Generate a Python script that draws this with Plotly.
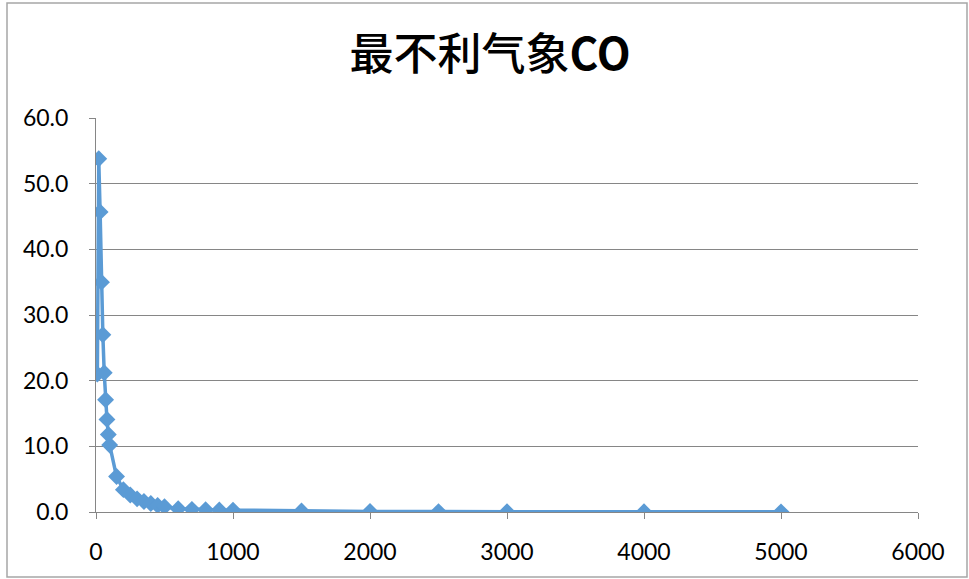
import plotly.graph_objects as go

# Distance from source (m) and CO concentration under the worst meteorology
distance = [10, 20, 30, 40, 50, 60, 70, 80, 90, 100, 150, 200, 250, 300, 350,
            400, 450, 500, 600, 700, 800, 900, 1000, 1500, 2000, 2500, 3000,
            4000, 5000]
co_conc = [21.0, 53.8, 45.7, 35.0, 27.0, 21.2, 17.1, 14.1, 11.8, 10.2, 5.4,
           3.4, 2.6, 2.0, 1.6, 1.3, 1.0, 0.8, 0.5, 0.4, 0.35, 0.3, 0.28, 0.15,
           0.09, 0.06, 0.05, 0.03, 0.02]

title_text = "最不利气象<b>CO</b>"
x_ticks = [0, 1000, 2000, 3000, 4000, 5000, 6000]
y_ticks = [0, 10, 20, 30, 40, 50, 60]

W, H = 969, 579
L, R, T, B = 96, 51, 118, 67
pw, ph = W - L - R, H - T - B

fig = go.Figure()
fig.add_trace(go.Scatter(
    x=distance, y=co_conc, mode="lines+markers",
    line=dict(color="#5B9BD5", width=3.5),
    marker=dict(symbol="diamond", size=13, color="#5B9BD5"),
    showlegend=False,
))

label_font = dict(family="Lato, 'Noto Sans', sans-serif", size=23, color="#000000")

fig.update_layout(
    width=W, height=H,
    margin=dict(l=L, r=R, t=T, b=B),
    paper_bgcolor="white", plot_bgcolor="white",
    title=dict(
        text=title_text,
        x=(L + 394) / W, xanchor="center",
        y=1 - 55 / H, yanchor="middle", yref="container",
        font=dict(family="'Noto Sans CJK SC', sans-serif", size=44,
                  color="#000000", weight=500),
    ),
    xaxis=dict(
        range=[0, 6000], tickvals=x_ticks, ticktext=[str(v) for v in x_ticks],
        showgrid=False, zeroline=False,
        showline=True, linecolor="#868686", linewidth=1,
        ticks="outside", ticklen=6, tickcolor="#868686",
        tickfont=label_font, ticklabelstandoff=13,
    ),
    yaxis=dict(
        range=[0, 60], tickvals=y_ticks, ticktext=[f"{v:.1f}" for v in y_ticks],
        showgrid=True, gridcolor="#868686", gridwidth=1,
        zeroline=False,
        showline=True, linecolor="#868686", linewidth=1,
        ticks="outside", ticklen=6, tickcolor="#868686",
        tickfont=label_font, ticklabelstandoff=16,
    ),
)

# Chart-area border
fig.add_shape(
    type="rect", xref="paper", yref="paper",
    x0=(7 - L) / pw, x1=(967 - L) / pw,
    y0=(H - B - 577) / ph, y1=(H - B - 3) / ph,
    line=dict(color="#A6A6A6", width=1.5), fillcolor="rgba(0,0,0,0)",
    layer="below",
)

fig.write_html("out.html")
